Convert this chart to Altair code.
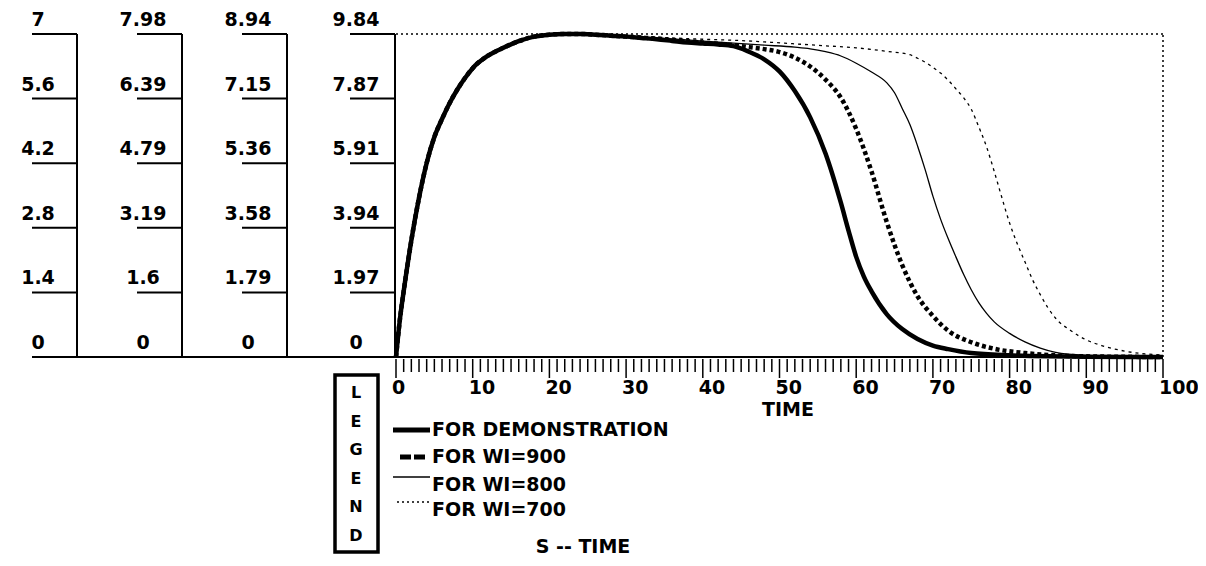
import altair as alt
import pandas as pd

# ---------------- data ----------------
T_RISE = [0, 0.5, 1, 2, 3, 4, 5, 6, 7, 8, 9, 10, 12, 14, 16, 18, 20, 22, 24, 26, 28, 30]
S_RISE = [0, 1.13, 2.0, 3.55, 4.85, 5.91, 6.7, 7.25, 7.74, 8.15, 8.5, 8.8, 9.18, 9.42, 9.62, 9.76, 9.82,
          9.84, 9.84, 9.82, 9.79, 9.76]

T_DEMO = [32, 34, 36, 38, 40, 42, 44, 46, 48, 50, 52, 54, 56, 58, 59, 60, 61, 62, 64, 66, 68, 70, 72, 75, 80,
          85, 90, 100]
S_DEMO = [9.72, 9.68, 9.63, 9.58, 9.55, 9.52, 9.47, 9.3, 9.07, 8.7, 8.1, 7.3, 6.2, 4.7, 3.85, 3.05, 2.45, 2.0,
          1.3, 0.85, 0.55, 0.35, 0.24, 0.12, 0.05, 0.02, 0.01, 0.0]

T_900 = [32, 34, 36, 38, 40, 42, 44, 46, 48, 50, 52, 54, 56, 58, 60, 62, 64, 66, 68, 70, 72, 75, 78, 82, 86, 90, 100]
S_900 = [9.73, 9.7, 9.66, 9.62, 9.58, 9.54, 9.5, 9.44, 9.38, 9.29, 9.12, 8.85, 8.45, 7.9, 6.95, 5.65, 4.1, 2.8,
         1.85, 1.25, 0.8, 0.45, 0.25, 0.12, 0.05, 0.02, 0.0]

T_800 = [32, 36, 40, 44, 48, 52, 54, 56, 58, 60, 62, 64, 65, 66, 67, 68, 69, 70, 71, 72, 73, 74, 75, 76, 77,
         78, 80, 82, 84, 86, 90, 95, 100]
S_800 = [9.74, 9.69, 9.62, 9.56, 9.5, 9.44, 9.39, 9.3, 9.17, 8.95, 8.68, 8.35, 8.05, 7.57, 7.08, 6.43, 5.7,
         4.9, 4.2, 3.6, 3.05, 2.52, 2.05, 1.65, 1.33, 1.07, 0.72, 0.46, 0.27, 0.14, 0.05, 0.02, 0.0]

T_700 = [32, 36, 40, 44, 48, 52, 56, 60, 64, 67, 68, 69, 70, 71, 72, 73, 74, 75, 76, 77, 78, 79, 80, 81, 82,
         83, 84, 85, 86, 88, 90, 92, 95, 100]
S_700 = [9.76, 9.72, 9.68, 9.65, 9.6, 9.54, 9.48, 9.42, 9.31, 9.21, 9.1, 8.98, 8.82, 8.65, 8.43, 8.17, 7.9,
         7.55, 7.0, 6.4, 5.65, 4.85, 4.08, 3.45, 2.9, 2.35, 1.9, 1.5, 1.18, 0.8, 0.52, 0.35, 0.18, 0.06]

SERIES = ["FOR DEMONSTRATION", "FOR WI=900", "FOR WI=800", "FOR WI=700"]

AXIS_LABELS = [
    ["0", "1.4", "2.8", "4.2", "5.6", "7"],
    ["0", "1.6", "3.19", "4.79", "6.39", "7.98"],
    ["0", "1.79", "3.58", "5.36", "7.15", "8.94"],
    ["0", "1.97", "3.94", "5.91", "7.87", "9.84"],
]
X_TICK_LABELS = ["0", "10", "20", "30", "40", "50", "60", "70", "80", "90", "100"]
X_MINOR = list(range(0, 101))
LEGEND_WORD = ["L", "E", "G", "E", "N", "D"]
X_TITLE = "TIME"
BOTTOM_TITLE = "S -- TIME"

YMAX = 9.84

# ---------------- layout helpers ----------------
W, H = 1190, 550
XR = [388, 1155]          # pixel range of t = 0..100
YR = [349, 26]            # pixel range of S = 0..YMAX
FONT = "DejaVu Sans"
FS = 19


def px_t(px):
    return (px - XR[0]) / (XR[1] - XR[0]) * 100.0


def py_v(py):
    return (YR[0] - py) / (YR[0] - YR[1]) * YMAX


xs = alt.Scale(domain=[0, 100], range=XR, nice=False, zero=False)
ys = alt.Scale(domain=[0, YMAX], range=YR, nice=False, zero=False)


def X(f):
    return alt.X(f, type="quantitative", scale=xs, axis=None)


def Y(f):
    return alt.Y(f, type="quantitative", scale=ys, axis=None)


def txt(**kw):
    base = dict(font=FONT, fontSize=FS, fontWeight="bold", baseline="middle", color="black")
    base.update(kw)
    return base


layers = []

# ---------------- left multi-scale axes ----------------
AXIS_PX = [69, 174, 279, 387]
rows = []
for a, labs in enumerate(AXIS_LABELS):
    for k, lab in enumerate(labs):
        rows.append(dict(lab=lab, yv=k / 5 * YMAX,
                         xa=px_t(AXIS_PX[a]), xl=px_t(AXIS_PX[a] - 45), xt=px_t(AXIS_PX[a] - 39)))
adf = pd.DataFrame(rows)
vdf = pd.DataFrame(dict(xa=[px_t(p) for p in AXIS_PX], y0=[0] * 4, y1=[YMAX] * 4))

layers.append(alt.Chart(vdf).mark_rule(color="black", strokeWidth=2).encode(
    x=X("xa"), y=Y("y0"), y2="y1"))
layers.append(alt.Chart(adf).mark_rule(color="black", strokeWidth=2).encode(
    x=X("xl"), x2="xa", y=Y("yv")))
layers.append(alt.Chart(adf).mark_text(**txt(align="center", dy=-14)).encode(
    x=X("xt"), y=Y("yv"), text="lab:N"))

# baseline
bdf = pd.DataFrame(dict(x0=[px_t(24)], x1=[100], y=[0]))
layers.append(alt.Chart(bdf).mark_rule(color="black", strokeWidth=2).encode(
    x=X("x0"), x2="x1", y=Y("y")))

# frame (dotted top and right)
fdf = pd.DataFrame(dict(x0=[0, 100], x1=[100, 100], y0=[YMAX, 0], y1=[YMAX, YMAX]))
layers.append(alt.Chart(fdf).mark_rule(color="black", strokeWidth=1.5, strokeDash=[2, 3]).encode(
    x=X("x0"), x2="x1", y=Y("y0"), y2="y1"))

# x ticks
tdf = pd.DataFrame(dict(t=X_MINOR, y0=[py_v(351)] * len(X_MINOR),
                        y1=[py_v(370) if t % 10 == 0 else py_v(364) for t in X_MINOR]))
layers.append(alt.Chart(tdf).mark_rule(color="black", strokeWidth=1.5).encode(
    x=X("t"), y=Y("y0"), y2="y1"))
ldf = pd.DataFrame(dict(t=[int(s) for s in X_TICK_LABELS], lab=X_TICK_LABELS,
                        y=[py_v(380)] * len(X_TICK_LABELS)))
layers.append(alt.Chart(ldf).mark_text(**txt(align="left", dx=-4)).encode(
    x=X("t"), y=Y("y"), text="lab:N"))

# titles
ttl = pd.DataFrame(dict(x=[px_t(780), px_t(575)], y=[py_v(402), py_v(539)], lab=[X_TITLE, BOTTOM_TITLE]))
layers.append(alt.Chart(ttl).mark_text(**txt(align="center")).encode(
    x=X("x"), y=Y("y"), text="lab:N"))

# ---------------- curves ----------------
styles = [
    (SERIES[3], T_700, S_700, dict(strokeWidth=1.3, strokeDash=[3, 4])),
    (SERIES[2], T_800, S_800, dict(strokeWidth=1.3)),
    (SERIES[1], T_900, S_900, dict(strokeWidth=4.5, strokeDash=[4, 3])),
    (SERIES[0], T_DEMO, S_DEMO, dict(strokeWidth=4.5)),
]
for name, tt, ss, st in styles:
    d = pd.DataFrame(dict(t=T_RISE + tt, s=S_RISE + ss))
    layers.append(alt.Chart(d).mark_line(color="black", interpolate="monotone", **st).encode(
        x=X("t"), y=Y("s"), order="t:Q"))

# ---------------- legend ----------------
box = pd.DataFrame(dict(x0=[px_t(327)], x1=[px_t(370)], y0=[py_v(367)], y1=[py_v(544)]))
layers.append(alt.Chart(box).mark_rect(fillOpacity=0, fill="white", stroke="black", strokeWidth=3.5).encode(
    x=X("x0"), x2="x1", y=Y("y0"), y2="y1"))
LET_Y = [385, 414, 442, 471, 499, 528]
letdf = pd.DataFrame(dict(x=[px_t(348)] * 6, y=[py_v(v) for v in LET_Y], lab=LEGEND_WORD))
layers.append(alt.Chart(letdf).mark_text(**txt(align="center", fontSize=16)).encode(
    x=X("x"), y=Y("y"), text="lab:N"))

leg_styles = [
    (385, 422, 422, dict(strokeWidth=5)),
    (392, 417, 449, dict(strokeWidth=5, strokeDash=[11, 3])),
    (385, 422, 469, dict(strokeWidth=1.3)),
    (389, 421, 494, dict(strokeWidth=1.3, strokeDash=[2, 3])),
]
for x0, x1, yy, st in leg_styles:
    d = pd.DataFrame(dict(x0=[px_t(x0)], x1=[px_t(x1)], y=[py_v(yy)]))
    layers.append(alt.Chart(d).mark_rule(color="black", **st).encode(
        x=X("x0"), x2="x1", y=Y("y")))
legtxt = pd.DataFrame(dict(x=[px_t(424)] * 4, y=[py_v(v) for v in [422, 449, 477, 502]], lab=SERIES))
layers.append(alt.Chart(legtxt).mark_text(**txt(align="left")).encode(
    x=X("x"), y=Y("y"), text="lab:N"))

chart = alt.layer(*layers).properties(
    width=W, height=H, padding=0, autosize=alt.AutoSizeParams(type="none"),
    background="white"
).configure_view(stroke=None)

chart.save("out.html", embed_options={"renderer": "svg", "actions": False})
